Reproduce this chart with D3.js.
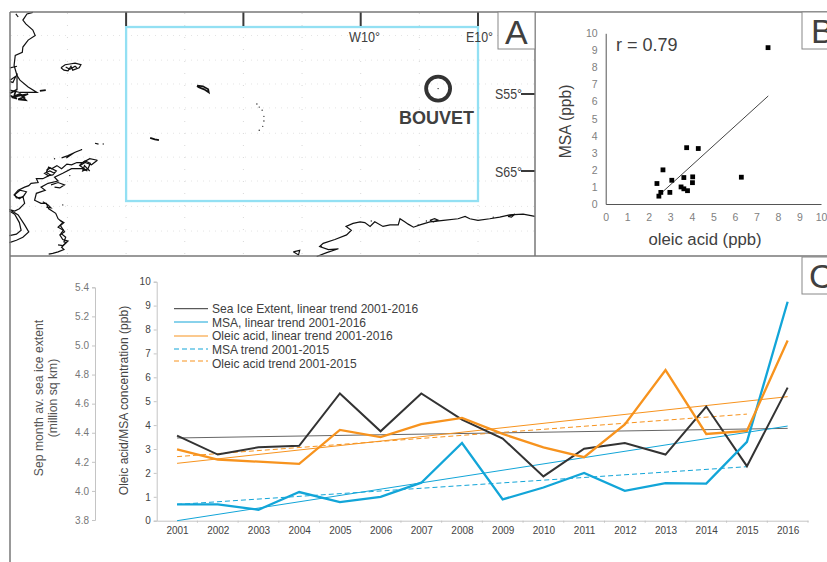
<!DOCTYPE html>
<html>
<head>
<meta charset="utf-8">
<script src="https://cdnjs.cloudflare.com/ajax/libs/d3/7.8.5/d3.min.js"></script>
<style>
  html, body { margin: 0; padding: 0; background: #fff; }
  svg { display: block; }
  text { font-family: "Liberation Sans", Arial, sans-serif; }
</style>
</head>
<body>
<div id="chart"></div>
<script>
// yearly values
const years = ["2001","2002","2003","2004","2005","2006","2007","2008","2009","2010","2011","2012","2013","2014","2015","2016"];
const seaIce = [4.38,4.25,4.30,4.31,4.67,4.41,4.67,4.49,4.36,4.10,4.29,4.33,4.25,4.58,4.17,4.71];
const msa = [0.68,0.68,0.46,1.2,0.78,1.0,1.59,3.25,0.89,1.39,2.0,1.25,1.57,1.55,3.3,9.16];
const oleic = [2.98,2.56,2.47,2.38,3.8,3.5,4.04,4.3,3.63,3.07,2.66,4.03,6.3,3.63,3.76,7.54];

// trend lines, [start, end]
const seaIceTrend = [4.364, 4.43];
const msaTrend = [0, 3.96];
const oleicTrend = [2.4, 5.19];
const msaTrend15 = [0.68, 2.26];
const oleicTrend15 = [2.68, 4.46];
const scatterFit = [[2.6, 0.66], [7.55, 6.33]];

const iceTicks = [3.8,4.0,4.2,4.4,4.6,4.8,5.0,5.2,5.4];
const ppbTicks = d3.range(0, 11);

const legendLabels = [
  "Sea Ice Extent, linear trend 2001-2016",
  "MSA, linear trend 2001-2016",
  "Oleic acid, linear trend 2001-2016",
  "MSA trend 2001-2015",
  "Oleic acid trend 2001-2015"
];

// map outlines as [lon, lat]
const southAmerica = [[-65.9,-44.4],[-66.9,-44.6],[-67.6,-45.4],[-67.1,-45.9],[-65.9,-46.7],[-65.5,-47.4],[-66.7,-48.0],[-67.6,-48.9],[-67.7,-49.6],[-68.9,-50.0],[-69.1,-51.3],[-68.6,-52.6],[-68.1,-53.2],[-66.7,-54.1],[-65.2,-54.8],[-66.7,-54.8],[-68.1,-54.8],[-69.8,-54.5]];
const fuego = [[-69.8,-54.9],[-68.8,-54.5],[-69.1,-55.3],[-68.1,-55.0],[-67.4,-55.4],[-68.4,-55.7],[-67.1,-55.8],[-67.7,-55.3],[-66.7,-55.0],[-69.5,-55.4],[-68.6,-55.6],[-69.8,-55.2]];
const magellan = [[-68.6,-52.3],[-68.6,-54.5]];
const magellan2 = [[-69.8,-51.6],[-68.6,-51.4]];
const magellan3 = [[-69.8,-53.2],[-68.8,-52.7],[-69.3,-53.5],[-69.8,-53.4]];
const staten = [[-64.7,-54.6],[-63.7,-54.5]];
const chiloe = [[-68.8,-44.6],[-68.4,-45.0]];
const falklands = [[-61.1,-51.6],[-60.4,-51.2],[-59.6,-51.1],[-58.7,-51.0],[-57.7,-51.2],[-58.0,-51.6],[-59.1,-51.9],[-59.4,-51.4],[-59.9,-52.0],[-60.6,-51.9],[-61.1,-51.6]];
const falklands2 = [[-60.3,-51.5],[-59.6,-51.8],[-58.7,-51.4],[-58.4,-51.6]];
const southGeorgia = [[-37.9,-53.9],[-36.9,-54.0],[-36.0,-54.4],[-35.9,-54.8],[-36.7,-54.4],[-37.7,-54.1],[-37.9,-53.9]];
const southOrkney = [[-45.9,-60.7],[-45.1,-60.9],[-44.4,-61.0]];
const elephant = [[-55.3,-61.4],[-54.7,-61.5]];
const shetland = [[-61.0,-63.3],[-59.9,-63.0],[-58.5,-62.5],[-57.5,-62.2],[-58.8,-62.6],[-60.2,-63.3]];
const peninsulaWest = [[-54.9,-63.6],[-56.2,-63.4],[-57.4,-63.9],[-58.4,-63.9],[-59.3,-64.2],[-60.1,-64.1],[-61.0,-64.7],[-61.8,-64.3],[-62.7,-64.7],[-63.2,-64.5],[-63.6,-65.2],[-62.9,-65.5],[-64.2,-66.0],[-65.3,-66.0],[-65.0,-66.5],[-66.2,-66.6],[-66.6,-66.9],[-67.3,-67.1],[-68.4,-67.5],[-69.1,-68.1],[-68.2,-68.6],[-67.6,-68.3],[-67.3,-69.2],[-68.2,-69.9],[-69.0,-70.2],[-69.9,-70.0]];
const peninsulaEast = [[-54.9,-63.6],[-55.9,-64.2],[-57.0,-63.9],[-57.9,-64.3],[-56.6,-65.0],[-57.5,-64.7],[-59.3,-64.7],[-60.8,-65.3],[-62.2,-65.8],[-61.6,-66.3],[-63.3,-66.6],[-64.5,-67.1],[-63.8,-67.5],[-65.3,-67.9],[-65.6,-68.8],[-64.5,-69.2],[-63.6,-69.2],[-63.2,-69.9],[-62.8,-70.1],[-62.0,-70.5],[-61.6,-71.2],[-60.8,-71.7],[-61.6,-72.3],[-60.7,-72.7],[-61.1,-73.1],[-60.3,-73.6],[-60.6,-74.2],[-60.2,-74.3],[-61.0,-74.9],[-60.6,-75.2],[-61.6,-75.5],[-62.5,-75.7],[-63.2,-75.8]];
const scribbleA = [[-63.6,-64.9],[-62.9,-64.6],[-61.9,-65.0],[-62.5,-65.5],[-63.3,-65.6],[-63.9,-65.3],[-63.0,-65.0],[-62.2,-65.3]];
const scribbleB = [[-57.9,-64.2],[-57.0,-63.7],[-56.1,-64.0],[-56.5,-64.7],[-57.4,-65.0],[-57.1,-64.3],[-56.2,-65.0]];
const scribbleC = [[-69.0,-68.1],[-68.1,-67.5],[-67.0,-67.7],[-67.6,-68.4],[-68.7,-68.5],[-69.0,-68.1]];
const scribbleD = [[-61.3,-71.4],[-60.6,-71.7],[-61.2,-72.1],[-60.5,-72.9],[-61.3,-73.3],[-60.8,-73.9],[-59.9,-74.1],[-60.8,-74.7],[-61.6,-74.6]];
const scribbleE = [[-62.8,-66.8],[-61.6,-66.5],[-60.5,-66.8],[-61.3,-67.2],[-62.2,-67.1]];
const scribbleF = [[-64.2,-69.0],[-63.3,-69.4],[-62.8,-69.8],[-63.6,-69.7]];
const alexander = [[-69.9,-70.0],[-68.4,-70.7],[-67.3,-72.0],[-66.6,-72.9],[-67.6,-73.6],[-68.7,-74.0],[-69.9,-74.3]];
const alexander2 = [[-69.9,-73.4],[-68.7,-73.2],[-67.9,-72.7],[-68.2,-71.7],[-69.0,-70.6],[-69.9,-70.2]];
const queenMaud = [[-17.5,-76.1],[-15.8,-75.6],[-13.8,-75.1],[-15.5,-75.2],[-17.0,-74.8],[-16.4,-74.4],[-14.4,-73.9],[-12.4,-73.3],[-11.6,-72.7],[-12.5,-72.2],[-11.3,-71.8],[-10.1,-71.6],[-9.3,-71.7],[-8.4,-72.2],[-7.6,-71.6],[-6.2,-72.2],[-5.0,-72.0],[-3.6,-72.0],[-3.3,-71.2],[-2.5,-71.6],[-1.9,-71.9],[-1.0,-72.3],[0.1,-72.0],[1.8,-71.6],[4.1,-71.4],[6.6,-71.2],[7.8,-70.9],[8.6,-71.2],[10.0,-71.4],[12.0,-71.2],[13.7,-71.0],[15.4,-70.7],[17.7,-70.6],[19.7,-70.9]];
const iceRise = [[-21.5,-75.5],[-20.4,-75.3],[-20.6,-75.9],[-21.5,-75.5]];
const coastLoop1 = [[1.8,-71.4],[2.6,-71.2],[3.2,-71.4],[2.4,-71.6],[1.8,-71.4]];
const coastLoop2 = [[15.1,-70.9],[16.3,-70.6],[15.7,-71.0],[15.1,-70.9]];
const coastLines = [southAmerica, magellan, magellan2, magellan3, chiloe, falklands, falklands2, elephant, shetland, peninsulaWest, peninsulaEast, scribbleA, scribbleB, scribbleC, scribbleD, scribbleE, scribbleF, alexander, alexander2, queenMaud, iceRise, coastLoop1, coastLoop2];
const thickLines = [staten, southGeorgia, southOrkney, fuego];
const smallIslands = [[-27.7,-56.3],[-27.3,-56.7],[-26.8,-57.1],[-26.5,-57.9],[-26.5,-58.5],[-26.7,-59.2],[-27.3,-59.7],[-53.9,-61.5],[-59.6,-65.6],[-60.8,-69.4],[-62.2,-63.4],[-8.2,-71.5],[-0.2,-72.0],[1.2,-71.5],[12.6,-71.0],[-16.7,-74.8]];
const bouvet = [3.2, -54.3];

const meridians = [-60,-50,-40,-30,-20,-10,0,10];
const parallels = [-47.4,-50.6,-53.7,-56.8,-60.1,-63.2,-66.3,-69.6,-72.8];
const boxCorners = [[-50,-46.3],[10,-68.9]];
const lonTicks = [-50,-30,-10,10];
const latTicks = [-55,-65];

const W = 827, H = 562;
const svg = d3.select("#chart").append("svg").attr("width", W).attr("height", H);

const darkText = "#404040";
const iceColor = "#333333", msaColor = "#12a5d8", oleicColor = "#f7931e";

// ---------- panel A, map
const lon = d3.scaleLinear().domain([-10, 10]).range([360.7, 478]);
const lat = d3.scaleLinear().domain([-55, -65]).range([94, 171]);
const coast = d3.line().x(d => lon(d[0])).y(d => lat(d[1]));

const map = svg.append("g");

map.selectAll(".meridian").data(meridians).join("line")
  .attr("x1", d => lon(d)).attr("x2", d => lon(d))
  .attr("y1", 13).attr("y2", 255)
  .attr("stroke", "#d8d8d8").attr("stroke-width", 1).attr("stroke-dasharray", "1 11");
map.selectAll(".parallel").data(parallels).join("line")
  .attr("x1", 11).attr("x2", 534)
  .attr("y1", d => lat(d)).attr("y2", d => lat(d))
  .attr("stroke", "#e4e4e4").attr("stroke-width", 1).attr("stroke-dasharray", "1 5");

map.selectAll(".coast").data(coastLines).join("path")
  .attr("d", coast).attr("fill", "none").attr("stroke", "#111").attr("stroke-width", 1.2);
map.selectAll(".thick").data(thickLines).join("path")
  .attr("d", coast).attr("fill", "none").attr("stroke", "#111").attr("stroke-width", 1.7);
map.selectAll(".island").data(smallIslands).join("circle")
  .attr("cx", d => lon(d[0])).attr("cy", d => lat(d[1])).attr("r", 0.7).attr("fill", "#222");

map.append("rect")
  .attr("x", lon(boxCorners[0][0])).attr("y", lat(boxCorners[0][1]))
  .attr("width", lon(boxCorners[1][0]) - lon(boxCorners[0][0]))
  .attr("height", lat(boxCorners[1][1]) - lat(boxCorners[0][1]))
  .attr("fill", "none").attr("stroke", "#93e0f3").attr("stroke-width", 2.3);

map.selectAll(".lontick").data(lonTicks).join("line")
  .attr("x1", d => lon(d)).attr("x2", d => lon(d)).attr("y1", 12).attr("y2", 26)
  .attr("stroke", "#3a3a3a").attr("stroke-width", 2);
map.selectAll(".lattick").data(latTicks).join("line")
  .attr("x1", 521).attr("x2", 535).attr("y1", d => lat(d)).attr("y2", d => lat(d))
  .attr("stroke", "#3a3a3a").attr("stroke-width", 2);

map.append("circle").attr("cx", lon(bouvet[0])).attr("cy", lat(bouvet[1])).attr("r", 12)
  .attr("fill", "none").attr("stroke", "#333").attr("stroke-width", 3.8);
map.append("circle").attr("cx", lon(bouvet[0])).attr("cy", lat(bouvet[1])).attr("r", 0.7).attr("fill", "#222");

const mapLabels = [
  ["W10°", 349, 42, 31], ["E10°", 466, 42, 27], ["S55°", 495, 98.5, 27], ["S65°", 495, 176.5, 27]
];
map.selectAll(".maplabel").data(mapLabels).join("text")
  .attr("x", d => d[1]).attr("y", d => d[2]).text(d => d[0])
  .attr("font-size", 15).attr("fill", darkText)
  .attr("textLength", d => d[3]).attr("lengthAdjust", "spacingAndGlyphs");
map.append("text").attr("x", 399).attr("y", 124).text("BOUVET")
  .attr("font-size", 18).attr("font-weight", "bold").attr("fill", darkText);

// ---------- panel B, scatter
const xB = d3.scaleLinear().domain([0, 10]).range([605.7, 821]);
const yB = d3.scaleLinear().domain([0, 10]).range([204, 33.3]);

const gBx = svg.append("g").attr("transform", "translate(0,204)")
  .call(d3.axisBottom(xB).tickValues(ppbTicks).tickSize(0).tickPadding(10).tickFormat(d3.format("d")));
const gBy = svg.append("g").attr("transform", "translate(605.7,0)")
  .call(d3.axisLeft(yB).tickValues(ppbTicks).tickSize(0).tickPadding(8).tickFormat(d3.format("d")));
[gBx, gBy].forEach(g => {
  g.select(".domain").attr("stroke", "#555").attr("stroke-width", 1);
  g.selectAll("text").attr("font-size", 10.5).attr("fill", "#808080")
    .style("font-family", '"Liberation Sans", Arial, sans-serif');
});

svg.append("line")
  .attr("x1", xB(scatterFit[0][0])).attr("y1", yB(scatterFit[0][1]))
  .attr("x2", xB(scatterFit[1][0])).attr("y2", yB(scatterFit[1][1]))
  .attr("stroke", "#444").attr("stroke-width", 1);

svg.selectAll(".pt").data(years.map((y, i) => [oleic[i], msa[i]])).join("rect")
  .attr("x", d => xB(d[0]) - 2.4).attr("y", d => yB(d[1]) - 2.4)
  .attr("width", 4.8).attr("height", 4.8).attr("fill", "#000");

svg.append("text").attr("x", 616).attr("y", 51).text("r = 0.79")
  .attr("font-size", 18).attr("fill", darkText);
svg.append("text").attr("x", 705).attr("y", 245).attr("text-anchor", "middle").text("oleic acid (ppb)")
  .attr("font-size", 16.7).attr("fill", darkText);
svg.append("text").attr("transform", "translate(571,121.5) rotate(-90)").attr("text-anchor", "middle").text("MSA (ppb)")
  .attr("font-size", 15.6).attr("fill", darkText);

// ---------- panel C, time series
const xC = d3.scalePoint().domain(years).range([156.7, 808]).padding(0.5);
const yC = d3.scaleLinear().domain([0, 10]).range([520.7, 281.7]);
const yIce = d3.scaleLinear().domain([3.8, 5.4]).range([520, 287.3]);

const gIce = svg.append("g").attr("transform", "translate(95,0)")
  .call(d3.axisLeft(yIce).tickValues(iceTicks).tickSize(3).tickSizeOuter(3).tickPadding(3).tickFormat(d3.format(".1f")));
const gPpb = svg.append("g").attr("transform", "translate(156.7,0)")
  .call(d3.axisLeft(yC).tickValues(ppbTicks).tickSize(3).tickSizeOuter(3).tickPadding(3).tickFormat(d3.format("d")));
const gYear = svg.append("g").attr("transform", "translate(0,520.7)")
  .call(d3.axisBottom(xC).tickSize(0).tickPadding(6));

[gIce, gPpb, gYear].forEach(g => {
  g.select(".domain").attr("stroke", "#c4c4c4").attr("stroke-width", 1);
  g.selectAll(".tick line").attr("stroke", "#c4c4c4");
  g.selectAll("text").attr("font-size", 10)
    .style("font-family", '"Liberation Sans", Arial, sans-serif');
});
gIce.selectAll("text").attr("fill", "#777");
gPpb.selectAll("text").attr("fill", "#444");
gYear.selectAll("text").attr("fill", "#444");

// year ticks sit between the categories
gYear.selectAll(".between").data(years).join("line")
  .attr("x1", d => xC(d) + xC.step() / 2).attr("x2", d => xC(d) + xC.step() / 2)
  .attr("y1", 0).attr("y2", 2).attr("stroke", "#c4c4c4");

const lineC = d3.line().x(d => xC(d[0])).y(d => yC(d[1]));
const lineIce = d3.line().x(d => xC(d[0])).y(d => yIce(d[1]));
const ends = (vals, lastYear) => [[years[0], vals[0]], [lastYear, vals[1]]];

const addPath = (d, color, width, dash) => svg.append("path").attr("d", d)
  .attr("fill", "none").attr("stroke", color).attr("stroke-width", width)
  .attr("stroke-dasharray", dash || null);

addPath(lineIce(ends(seaIceTrend, "2016")), "#666", 1);
addPath(lineC(ends(msaTrend, "2016")), msaColor, 1);
addPath(lineC(ends(oleicTrend, "2016")), oleicColor, 1);
addPath(lineC(ends(msaTrend15, "2015")), msaColor, 1, "5 3");
addPath(lineC(ends(oleicTrend15, "2015")), oleicColor, 1, "5 3");

addPath(lineIce(years.map((y, i) => [y, seaIce[i]])), iceColor, 2);
addPath(lineC(years.map((y, i) => [y, msa[i]])), msaColor, 2.3);
addPath(lineC(years.map((y, i) => [y, oleic[i]])), oleicColor, 2.3);

// legend
const legendColors = ["#333", msaColor, oleicColor, msaColor, oleicColor];
const legendDash = [null, null, null, "5 3", "5 3"];
const legendLineY = [308.7, 322, 336, 349, 361];
const legendTextY = [313.3, 326.6, 340.3, 354, 367.6];
const legend = svg.append("g");
legend.selectAll("line").data(legendLabels).join("line")
  .attr("x1", 174).attr("x2", 208)
  .attr("y1", (d, i) => legendLineY[i]).attr("y2", (d, i) => legendLineY[i])
  .attr("stroke", (d, i) => legendColors[i]).attr("stroke-width", 1)
  .attr("stroke-dasharray", (d, i) => legendDash[i]);
legend.selectAll("text").data(legendLabels).join("text")
  .attr("x", 212).attr("y", (d, i) => legendTextY[i])
  .attr("font-size", 12.05).attr("fill", darkText).text(d => d);

svg.append("text").attr("transform", "translate(43,398) rotate(-90)").attr("text-anchor", "middle")
  .text("Sep month av. sea ice extent").attr("font-size", 12.2).attr("fill", "#555");
svg.append("text").attr("transform", "translate(57,398) rotate(-90)").attr("text-anchor", "middle")
  .text("(million sq km)").attr("font-size", 12.2).attr("fill", "#555");
svg.append("text").attr("transform", "translate(128,400.5) rotate(-90)").attr("text-anchor", "middle")
  .text("Oleic acid/MSA concentration (ppb)").attr("font-size", 12.1).attr("fill", "#444");

// ---------- frames and panel letters
const frames = [
  [10, 12, 827, 12], [10, 12, 10, 562], [535, 12, 535, 256], [10, 256, 827, 256]
];
svg.selectAll(".frame").data(frames).join("line")
  .attr("x1", d => d[0]).attr("y1", d => d[1]).attr("x2", d => d[2]).attr("y2", d => d[3])
  .attr("stroke", "#777").attr("stroke-width", 1.5);

const letters = [["A", 498, 12, 37, 505, 43.5], ["B", 802, 12, 30, 811, 43], ["C", 802, 257, 30, 809, 288]];
svg.selectAll(".lbox").data(letters).join("rect")
  .attr("x", d => d[1]).attr("y", d => d[2]).attr("width", d => d[3]).attr("height", 37)
  .attr("fill", "#fff").attr("stroke", "#888").attr("stroke-width", 1);
svg.selectAll(".ltxt").data(letters).join("text")
  .attr("x", d => d[4]).attr("y", d => d[5]).text(d => d[0])
  .attr("font-size", 34).attr("fill", darkText);
</script>
</body>
</html>
